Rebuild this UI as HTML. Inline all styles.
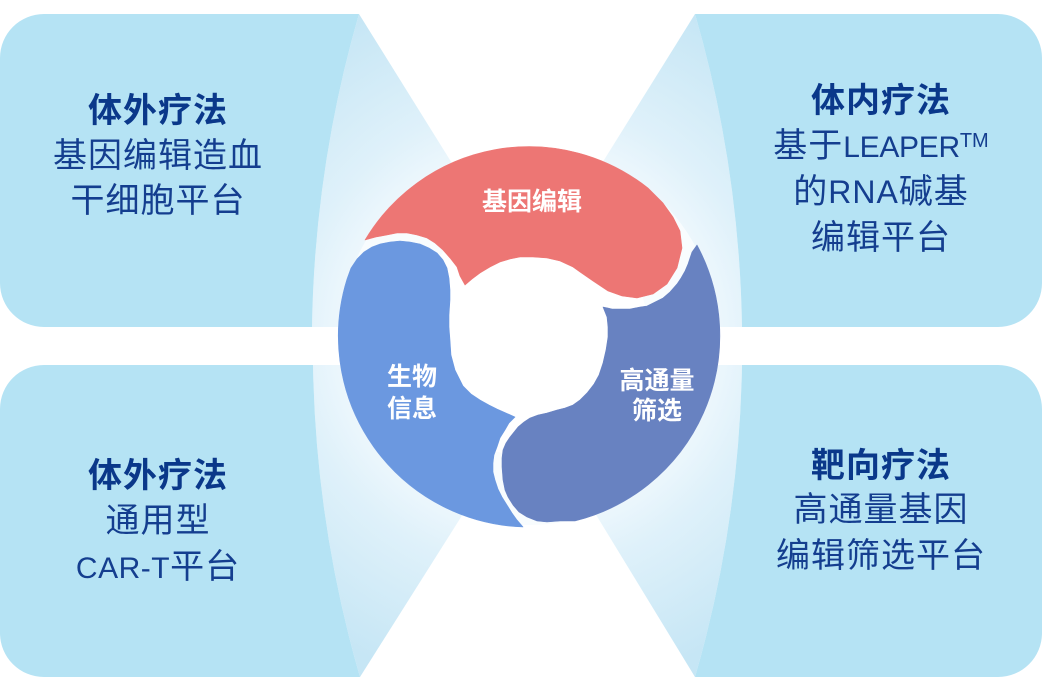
<!DOCTYPE html>
<html>
<head>
<meta charset="utf-8">
<style>
html,body{margin:0;padding:0;background:#fff;overflow:hidden;}
svg{display:block;}
</style>
</head>
<body>
<svg width="1042" height="692" viewBox="0 0 1042 692" xmlns="http://www.w3.org/2000/svg">
<defs>
<radialGradient id="fg" gradientUnits="userSpaceOnUse" cx="529" cy="336" r="360">
<stop offset="0" stop-color="#ffffff"/>
<stop offset="0.5" stop-color="#eff8fd"/>
<stop offset="0.65" stop-color="#dff1fa"/>
<stop offset="1" stop-color="#c6e6f5"/>
</radialGradient>
</defs>
<rect width="1042" height="692" fill="#fff"/>

<!-- funnels -->
<path d="M359,14 L531,290 L531,327 L312,327 A1192,1192 0 0 1 359,14 Z" fill="url(#fg)"/>
<path d="M695,14 L523,290 L523,327 L742,327 A1192,1192 0 0 0 695,14 Z" fill="url(#fg)"/>
<path d="M360,677 L535,400 L535,365 L313,365 A1192,1192 0 0 0 360,677 Z" fill="url(#fg)"/>
<path d="M695,677 L526,400 L526,365 L742,365 A1192,1192 0 0 1 695,677 Z" fill="url(#fg)"/>

<!-- panels -->
<g fill="#b5e3f4">
<path d="M44,14 L359,14 A1192,1192 0 0 0 312,327 L44,327 A44,44 0 0 1 0,283 L0,58 A44,44 0 0 1 44,14 Z"/>
<path d="M44,365 L313,365 A1192,1192 0 0 0 360,677 L44,677 A44,44 0 0 1 0,633 L0,409 A44,44 0 0 1 44,365 Z"/>
<path d="M695,14 L998,14 A44,44 0 0 1 1042,58 L1042,283 A44,44 0 0 1 998,327 L742,327 A1192,1192 0 0 0 695,14 Z"/>
<path d="M742,365 L998,365 A44,44 0 0 1 1042,409 L1042,633 A44,44 0 0 1 998,677 L695,677 A1192,1192 0 0 0 742,365 Z"/>
</g>

<!-- ring backdrop -->
<circle cx="529" cy="336" r="189" fill="#f8fcfe"/>
<circle cx="529" cy="336" r="120" fill="#ffffff"/>

<!-- red segment -->
<path fill="#ed7674" stroke="#ed7674" stroke-width="0.6" stroke-linejoin="round" d="M365,240 A191,191 0 0 1 648,188 L663,203 L673,217 L680,231 L682,248 L677,268 L667,284 L653,294 L637,298 L622,296 L608,291 L593,281 L580,272 L573,267 L560,261 L547,258 L533,257 L520,257 L510,259 L500,262 L490,267 L480,273 L472,279 L465,285 L460,276 L457,267 L450,258 L443,250 L435,243 L427,238 L417,235 L407,233 L397,233 L387,235 L376,237 Z"/>

<!-- light blue segment -->
<path fill="#6b98e0" stroke="#6b98e0" stroke-width="0.6" stroke-linejoin="round" d="M523,527 A191,191 0 0 1 347,279 L351,268 L357,259 L364,252 L372,247 L380,244 L390,242 L400,241 L410,242 L420,244 L429,248 L437,253 L443,260 L447,268 L449,278 L450,290 L450,300 L449,315 L449,327 L450,340 L451,355 L455,370 L463,386 L471,394 L480,400 L489,405 L497,409 L506,413 L515,417 L509,423 L505,430 L500,438 L497,447 L494,455 L493,463 L493,472 L495,480 L498,489 L502,497 L507,505 L512,513 L517,520 Z"/>

<!-- dark blue segment -->
<path fill="#6882c1" stroke="#6882c1" stroke-width="0.6" stroke-linejoin="round" d="M697,245 A191,191 0 0 1 575,521 L560,521 L547,522 L537,521 L527,517 L519,512 L513,505 L508,497 L505,490 L503,480 L502,467 L502,458 L503,450 L506,443 L510,437 L514,432 L518,427 L524,422 L530,418 L538,415 L547,413 L557,410 L565,408 L573,405 L580,400 L587,393 L594,384 L599,375 L603,363 L606,350 L608,337 L608,327 L607,317 L605,312 L603,307 L608,308 L612,309 L620,309 L630,309 L640,307 L647,306 L655,302 L663,298 L670,292 L677,284 L681,278 L685,271 L688,264 L690,258 L692,252 Z"/>

<!-- ring labels -->
<g font-family="'Liberation Sans','Noto Sans CJK SC',sans-serif" font-weight="bold" font-size="25" fill="#ffffff" text-anchor="middle">
<text x="532" y="210">基因编辑</text>
<text x="412" y="385">生物</text>
<text x="412" y="417">信息</text>
<text x="657" y="389">高通量</text>
<text x="657" y="419">筛选</text>
</g>

<!-- panel texts -->
<g font-family="'Liberation Sans','Noto Sans CJK SC',sans-serif" font-size="34" fill="#143e8f" text-anchor="middle" letter-spacing="1">
<text x="158" y="122" font-weight="bold" fill="#0a388a">体外疗法</text>
<text x="158" y="167">基因编辑造血</text>
<text x="158" y="212">干细胞平台</text>

<text x="881" y="112" font-weight="bold" fill="#0a388a">体内疗法</text>
<text x="881" y="157">基于<tspan font-size="30" letter-spacing="-0.3">LEAPER</tspan><tspan font-size="20" letter-spacing="0" dy="-10">TM</tspan></text>
<text x="881" y="203">的<tspan font-size="32" letter-spacing="1">RNA</tspan>碱基</text>
<text x="881" y="249">编辑平台</text>

<text x="158" y="487" font-weight="bold" fill="#0a388a">体外疗法</text>
<text x="158" y="532">通用型</text>
<text x="158" y="578"><tspan font-size="30" letter-spacing="0.5">CAR-T</tspan>平台</text>

<text x="881" y="477" font-weight="bold" fill="#0a388a">靶向疗法</text>
<text x="881" y="521">高通量基因</text>
<text x="881" y="567">编辑筛选平台</text>
</g>
</svg>
</body>
</html>
